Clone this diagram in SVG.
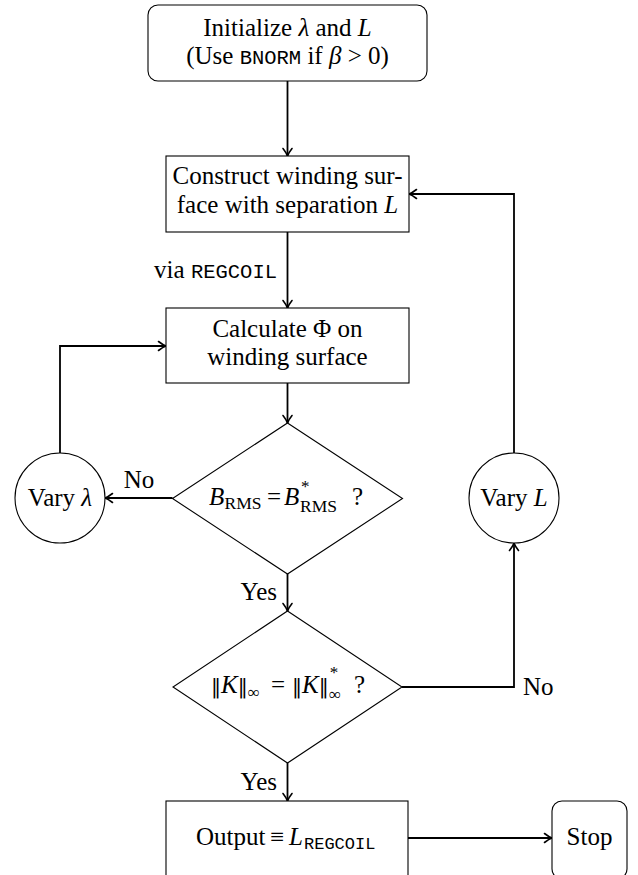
<svg xmlns="http://www.w3.org/2000/svg" width="638" height="875" viewBox="0 0 638 875">
<defs>
<style>
.t{font-family:"Liberation Serif","Times New Roman",serif;font-size:25px;fill:#000}
.m{font-family:"Liberation Mono","Courier New",monospace;font-size:20.5px}
.i{font-style:italic}
.s{font-size:17.5px}
.sup{font-size:17px}
.node{fill:#fff;stroke:#000;stroke-width:1.1}
.c{fill:none;stroke:#000;stroke-width:1.8}
.a{marker-end:url(#arr)}
.bar{font-family:"DejaVu Serif","Liberation Serif",serif;font-size:20px;font-style:normal}
</style>
<marker id="arr" markerWidth="14" markerHeight="14" refX="11" refY="7" orient="auto" markerUnits="userSpaceOnUse">
<path d="M3.5,2.5 Q8,6 11,7 Q8,8 3.5,11.5" fill="none" stroke="#000" stroke-width="1.6" stroke-linecap="round"/>
</marker>
</defs>

<g id="connectors">
<line class="c a" x1="287.5" y1="81" x2="287.5" y2="156"/>
<line class="c a" x1="287.5" y1="232" x2="287.5" y2="308"/>
<line class="c a" x1="287.5" y1="383" x2="287.5" y2="423"/>
<line class="c a" x1="172.5" y1="498" x2="105" y2="498"/>
<polyline class="c a" points="60,453 60,346 166,346"/>
<line class="c a" x1="287.5" y1="574" x2="287.5" y2="611"/>
<polyline class="c a" points="402,687 514,687 514,543"/>
<polyline class="c a" points="514,453 514,194 409,194"/>
<line class="c a" x1="287.5" y1="763" x2="287.5" y2="801"/>
<line class="c a" x1="408" y1="838" x2="552" y2="838"/>
<text class="t" x="277" y="278" text-anchor="end">via <tspan class="m">REGCOIL</tspan></text>
<text class="t" x="139" y="488" text-anchor="middle">No</text>
<text class="t" x="277" y="600" text-anchor="end">Yes</text>
<text class="t" x="277" y="790" text-anchor="end">Yes</text>
<text class="t" x="523" y="695">No</text>
</g>

<g id="init">
<rect class="node" x="148" y="5" width="279" height="76" rx="10"/>
<text class="t" x="287.5" y="36" text-anchor="middle">Initialize <tspan class="i">λ</tspan> and <tspan class="i">L</tspan></text>
<text class="t" x="287.5" y="64" text-anchor="middle">(Use <tspan class="m">BNORM</tspan> if <tspan class="i">β</tspan> &gt; 0)</text>
</g>

<g id="construct">
<rect class="node" x="166" y="156" width="243" height="76"/>
<text class="t" x="287.5" y="184" text-anchor="middle">Construct winding sur-</text>
<text class="t" x="287.5" y="213" text-anchor="middle">face with separation <tspan class="i">L</tspan></text>
</g>

<g id="calculate">
<rect class="node" x="166" y="308" width="243" height="75"/>
<text class="t" x="287.5" y="337" text-anchor="middle">Calculate Φ on</text>
<text class="t" x="287.5" y="365" text-anchor="middle">winding surface</text>
</g>

<g id="check-brms">
<polygon class="node" points="287.5,423 402.5,498.5 287.5,574 172.5,498.5"/>
<text class="t" x="209" y="505"><tspan class="i">B</tspan><tspan class="s" x="224.5" dy="4">RMS</tspan><tspan x="267" dy="-4">=</tspan><tspan class="i" x="284">B</tspan><tspan class="sup" x="301" dy="-13">*</tspan><tspan class="s" x="300" dy="20">RMS</tspan><tspan x="352" dy="-7">?</tspan></text>
</g>

<g id="vary-lambda">
<circle class="node" cx="60" cy="498" r="45"/>
<text class="t" x="60" y="506" text-anchor="middle">Vary <tspan class="i">λ</tspan></text>
</g>

<g id="check-k">
<polygon class="node" points="287.5,611 402,687 287.5,763 173,687"/>
<text class="t" x="211" y="693"><tspan class="bar">‖</tspan><tspan class="i">K</tspan><tspan class="bar">‖</tspan><tspan class="sup" dy="5">∞</tspan><tspan x="271" dy="-5">=</tspan><tspan class="bar" x="292">‖</tspan><tspan class="i">K</tspan><tspan class="bar">‖</tspan><tspan class="sup" dx="1" dy="-15">*</tspan><tspan class="sup" x="329" dy="22">∞</tspan><tspan x="354" dy="-7">?</tspan></text>
</g>

<g id="vary-L">
<circle class="node" cx="514" cy="498" r="45"/>
<text class="t" x="514" y="506" text-anchor="middle">Vary <tspan class="i">L</tspan></text>
</g>

<g id="output">
<rect class="node" x="166" y="801" width="242" height="85"/>
<text class="t" x="196" y="845">Output <tspan x="270">≡</tspan><tspan class="i" x="289">L</tspan><tspan class="m" x="304" dy="4" style="font-size:17px">REGCOIL</tspan></text>
</g>

<g id="stop">
<rect class="node" x="552" y="801" width="75" height="78" rx="10"/>
<text class="t" x="589.5" y="845" text-anchor="middle">Stop</text>
</g>
</svg>
